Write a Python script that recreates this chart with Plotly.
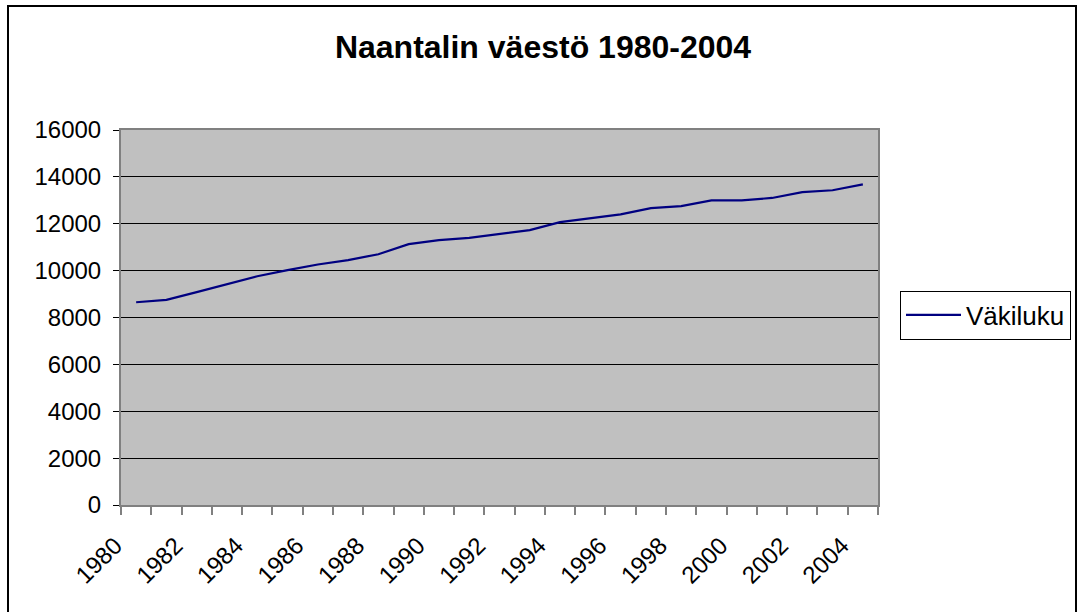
import plotly.graph_objects as go

years = list(range(1980, 2005))
population = [8650, 8750, 9080, 9420, 9760, 10020, 10260, 10450, 10700, 11130,
              11300, 11400, 11550, 11730, 12070, 12240, 12400, 12670, 12750, 13000,
              13000, 13100, 13350, 13430, 13680]
label_years = list(range(1980, 2005, 2))
series_name = "Väkiluku"
title_text = "Naantalin väestö 1980-2004"

W, H = 1079, 612
L, R, T, B = 121, 878, 130, 505

fig = go.Figure()
fig.add_trace(go.Scatter(x=years, y=population, mode="lines", name=series_name,
                         line=dict(color="#000080", width=2.2)))

font = "Liberation Sans, Arial, sans-serif"

def px_x(p):
    return (p - L) / (R - L)

def px_y(p):
    return (B - p) / (B - T)

fig.update_layout(
    width=W, height=H,
    margin=dict(l=L, r=W - R, t=T, b=H - B, pad=0, autoexpand=False),
    paper_bgcolor="white", plot_bgcolor="#C0C0C0",
    title=dict(text=f"<b>{title_text}</b>", x=543 / W, xanchor="center",
               y=1 - 47 / H, yanchor="middle",
               font=dict(family=font, size=32, color="black"), automargin=False),
    showlegend=True,
    legend=dict(x=px_x(900), xanchor="left", y=px_y(315), yanchor="middle",
                bordercolor="black", borderwidth=1, bgcolor="white",
                font=dict(family=font, size=26, color="black"),
                itemwidth=55),
    font=dict(family=font, size=24, color="black"),
    shapes=[dict(type="rect", xref="paper", yref="paper",
                 x0=px_x(8), x1=px_x(1076), y0=px_y(640), y1=px_y(6),
                 line=dict(color="black", width=2), fillcolor="rgba(0,0,0,0)",
                 layer="above")],
)

fig.update_xaxes(
    range=[years[0] - 0.5, years[-1] + 0.5],
    tickmode="array",
    tickvals=label_years,
    ticktext=[str(y) for y in label_years],
    tickangle=-45, ticks="", showgrid=False, zeroline=False, automargin=False,
    showline=True, linecolor="#808080", linewidth=2, mirror=True,
    ticklabelstandoff=15, ticklabelshift=-21,
    tickfont=dict(family=font, size=24, color="black"),
    minor=dict(tickmode="array", tickvals=[years[0] - 0.5 + i for i in range(len(years) + 1)],
               ticks="outside", ticklen=8, tickcolor="#808080", tickwidth=2, showgrid=False),
)
fig.update_yaxes(
    range=[0, 16000], dtick=2000, tick0=0, tickformat="d",
    ticks="outside", ticklen=6, tickcolor="black", tickwidth=1,
    showgrid=True, gridcolor="black", gridwidth=1, zeroline=False, automargin=False,
    showline=True, linecolor="#808080", linewidth=2, mirror=True,
    ticklabelstandoff=7,
    tickfont=dict(family=font, size=24, color="black"),
)

fig.write_html("out.html", config=dict(displayModeBar=False),
               post_script="document.body.style.margin='0';document.body.style.overflow='hidden';")
